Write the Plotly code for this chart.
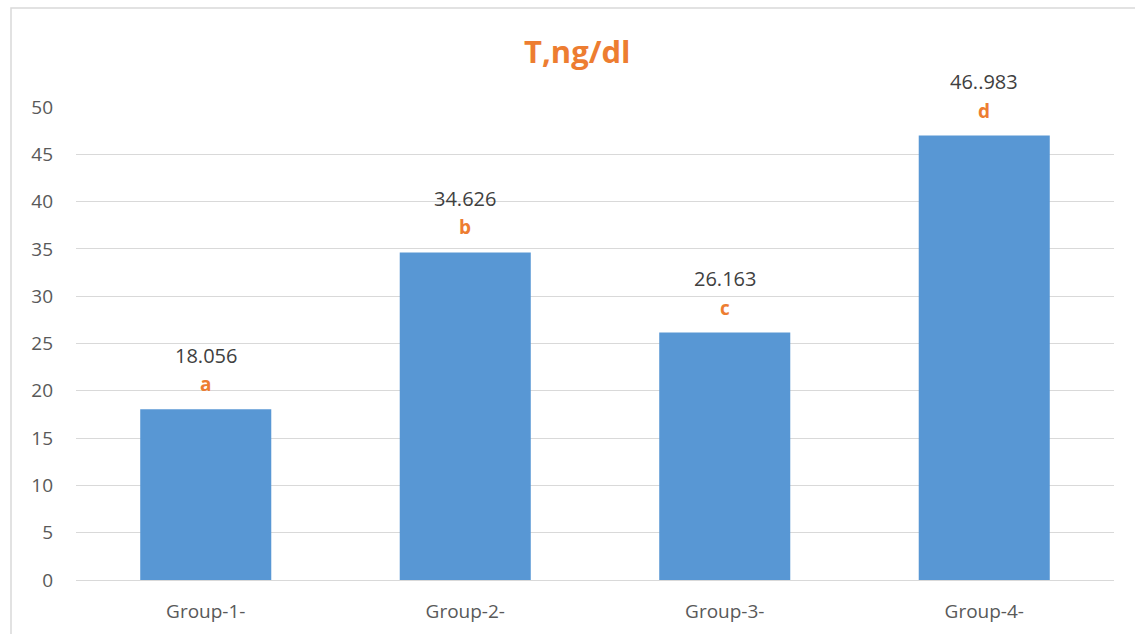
import plotly.graph_objects as go

categories = ["Group-1-", "Group-2-", "Group-3-", "Group-4-"]
values = [18.056, 34.626, 26.163, 46.983]
value_labels = ["18.056", "34.626", "26.163", "46..983"]
letters = ["a", "b", "c", "d"]
title_text = "T,ng/dl"
y_ticks = [0, 5, 10, 15, 20, 25, 30, 35, 40, 45, 50]

FONT = "Open Sans"
ORANGE = "#ED7D31"

W, H = 1135, 634
L, R, T, B = 76, 21, 107, 54
pw, ph = W - L - R, H - T - B

fig = go.Figure()
fig.add_trace(go.Bar(
    x=categories, y=values,
    width=0.505,
    marker=dict(color="#5897d4", line=dict(width=0)),
    hoverinfo="x+y",
))

annotations = []
for c, v, lab, let in zip(categories, values, value_labels, letters):
    annotations.append(dict(x=c, y=v, xref="x", yref="y", text=lab, showarrow=False,
                            yshift=54, yanchor="middle",
                            font=dict(family=FONT, size=20, color="#404040")))
    annotations.append(dict(x=c, y=v, xref="x", yref="y", text="<b>" + let + "</b>", showarrow=False,
                            yshift=25, yanchor="middle",
                            font=dict(family=FONT, size=19, color=ORANGE)))
annotations.append(dict(x=(577 - L) / pw, y=(H - B - 51) / ph, xref="paper", yref="paper",
                        xanchor="center", yanchor="middle",
                        text="<b>" + title_text + "</b>",
                        showarrow=False, font=dict(family=FONT, size=31, color=ORANGE)))

fig.update_layout(
    width=W, height=H,
    margin=dict(l=L, r=R, t=T, b=B, pad=0, autoexpand=False),
    paper_bgcolor="white", plot_bgcolor="white",
    showlegend=False,
    annotations=annotations,
    font=dict(family=FONT, size=18, color="#595959"),
    xaxis=dict(showgrid=False, showline=False, ticks="", tickfont=dict(size=19, color="#595959"),
               ticklabelstandoff=18, automargin=False),
    yaxis=dict(range=[0, 50], tickvals=y_ticks, showgrid=True, gridcolor="#d9d9d9", gridwidth=1,
               zeroline=True, zerolinecolor="#d9d9d9", zerolinewidth=1, showline=False,
               ticks="", tickfont=dict(size=19, color="#595959"), ticklabelstandoff=22,
               automargin=False),
    shapes=[dict(type="rect", xref="paper", yref="paper",
                 x0=(11 - L) / pw, x1=(W + 20 - L) / pw,
                 y0=(H - B - (H + 20)) / ph, y1=(H - B - 8) / ph,
                 line=dict(color="#d9d9d9", width=1.5), fillcolor="rgba(0,0,0,0)", layer="below")],
)

fig.write_html("out.html")
